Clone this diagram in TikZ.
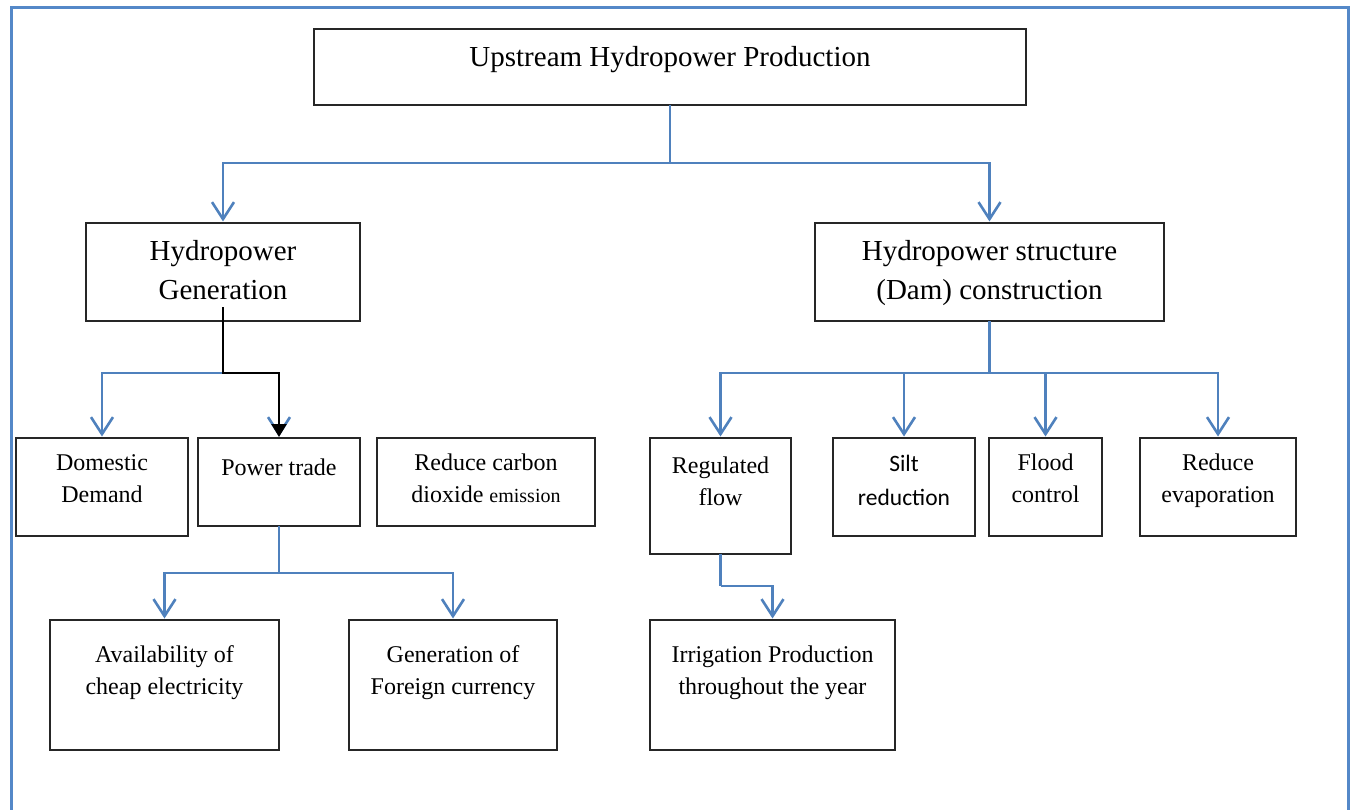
\documentclass[tikz,border=0pt]{standalone}
\usepackage{fontspec}
\setmainfont{Liberation Serif}
\newfontfamily\calibrilike{Carlito}
\usetikzlibrary{arrows.meta}
\definecolor{linkblue}{RGB}{79,129,189}
\definecolor{frameblue}{RGB}{84,136,200}
\begin{document}
\begin{tikzpicture}[x=1pt,y=-1pt,
  box/.style={draw=black!85, line width=1.2pt, anchor=north west, inner sep=0pt, outer sep=0pt},
  txtbig/.style={anchor=north, inner sep=0pt, align=center, font=\fontsize{29}{39}\selectfont},
  txtsmall/.style={anchor=north, inner sep=0pt, align=center, font=\fontsize{24}{32}\selectfont},
  bluelink/.style={draw=linkblue, line width=2.6pt},
  bluearrow/.style={bluelink, -{Straight Barb[length=17pt,width=22pt]}, shorten >=1.5pt},
  blackarrow/.style={draw=black, line width=2.6pt, -{Triangle[length=13pt,width=15pt]}, shorten >=1pt}
]
\useasboundingbox (0,0) rectangle (1351,810);

% page frame
\draw[frameblue, line width=3pt] (11,815) -- (11,8) -- (1348,8) -- (1348,815);

% boxes
\node[box, minimum width=712pt, minimum height=76pt] (top) at (314,29) {};
\node[box, minimum width=274pt, minimum height=98pt] (hg) at (86,223) {};
\node[box, minimum width=349pt, minimum height=98pt] (hs) at (815,223) {};
\node[box, minimum width=172pt, minimum height=98pt] (dd) at (16,438) {};
\node[box, minimum width=162pt, minimum height=88pt] (pt) at (198,438) {};
\node[box, minimum width=218pt, minimum height=88pt] (rc) at (377,438) {};
\node[box, minimum width=229pt, minimum height=130pt] (av) at (50,620) {};
\node[box, minimum width=208pt, minimum height=130pt] (gf) at (349,620) {};
\node[box, minimum width=141pt, minimum height=116pt] (rf) at (650,438) {};
\node[box, minimum width=142pt, minimum height=98pt] (sr) at (833,438) {};
\node[box, minimum width=113pt, minimum height=98pt] (fc) at (989,438) {};
\node[box, minimum width=156pt, minimum height=98pt] (re) at (1140,438) {};
\node[box, minimum width=245pt, minimum height=130pt] (ip) at (650,620) {};

% labels (north edge = first baseline minus strut height)
\node[txtbig] (top-t) at (top.north |- 0,38.7) {\strut Upstream Hydropower Production};
\node[txtbig] (hg-t) at (hg.north |- 0,232.7) {\strut Hydropower\\Generation};
\node[txtbig] (hs-t) at (hs.north |- 0,232.7) {\strut Hydropower structure\\(Dam) construction};
\node[txtsmall] (dd-t) at (dd.north |- 0,447.6) {\strut Domestic\\Demand};
\node[txtsmall] (pt-t) at (pt.north |- 0,452.6) {\strut Power trade};
\node[txtsmall] (rc-t) at (rc.north |- 0,447.6) {\strut Reduce carbon\\dioxide {\fontsize{20}{32}\selectfont emission}};
\node[txtsmall] (av-t) at (av.north |- 0,639.6) {\strut Availability of\\cheap electricity};
\node[txtsmall] (gf-t) at (gf.north |- 0,639.6) {\strut Generation of\\Foreign currency};
\node[txtsmall] (rf-t) at (rf.north |- 0,450.6) {\strut Regulated\\flow};
\node[txtsmall, font=\calibrilike\fontsize{23.5}{34}\selectfont] (sr-t) at (sr.north |- 0,447.2) {\strut Silt\\reduction};
\node[txtsmall] (fc-t) at (fc.north |- 0,447.6) {\strut Flood\\control};
\node[txtsmall] (re-t) at (re.north |- 0,447.6) {\strut Reduce\\evaporation};
\node[txtsmall] (ip-t) at (ip.north |- 0,639.6) {\strut Irrigation Production\\throughout the year};

% junction points
\coordinate (j0) at (top.south |- 0,163);
\coordinate (j1) at (hg.south |- 0,373);
\coordinate (j2) at (pt.south |- 0,573);
\coordinate (j3) at (hs.south |- 0,373);
\coordinate (j4) at (rf.south |- 0,586);

% upstream -> two branches
\draw[bluelink] (top.south) -- (j0);
\draw[bluearrow] (j0) -| (hg.north);
\draw[bluearrow] (j0) -| (hs.north);

% generation branch
\draw[bluearrow] (j1) -| (dd.north);
\draw[bluearrow] (j1) -| (pt.north);
\draw[blackarrow] ([yshift=14pt]hg.south) -- (j1) -| (pt.north);

% power trade branch
\draw[bluelink] (pt.south) -- (j2);
\draw[bluearrow] (j2) -| (av.north);
\draw[bluearrow] (j2) -| (gf.north);

% dam construction branch
\draw[bluelink] (hs.south) -- (j3);
\draw[bluearrow] (j3) -| (rf.north);
\draw[bluearrow] (j3) -| (sr.north);
\draw[bluearrow] (j3) -| (fc.north);
\draw[bluearrow] (j3) -| (re.north);

% regulated flow -> irrigation
\draw[bluelink] (rf.south) -- (j4);
\draw[bluearrow] (j4) -| (ip.north);
\end{tikzpicture}
\end{document}
